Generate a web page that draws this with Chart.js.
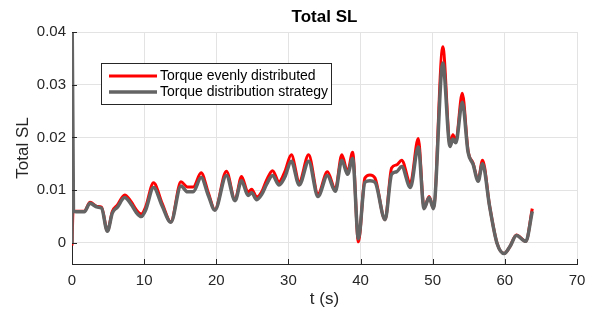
<!DOCTYPE html>
<html>
<head>
<meta charset="utf-8">
<script src="https://cdn.jsdelivr.net/npm/chart.js@4"></script>
<style>
  body { margin: 0; background: #fff; }
  #wrap { width: 594px; height: 311px; position: relative; }
</style>
</head>
<body>
<div id="wrap"><canvas id="place__graph1"></canvas></div>
<script>
// time (s)
const tRed = [0, 0.15, 0.6, 1.7, 2.5, 3.5, 4.1, 4.9, 5.6, 6.3, 7.3, 8.2, 8.9, 9.6, 10.2, 11.3, 12.5, 13.7, 15.1, 16.0, 16.8, 17.9, 18.9, 19.8, 21.4, 22.6, 23.5, 24.4, 24.9, 25.6, 26.3, 27.0, 27.8, 28.7, 29.5, 30.4, 31.5, 32.8, 34.1, 35.4, 36.5, 37.4, 38.2, 38.9, 39.7, 40.6, 41.3, 42.0, 43.4, 44.3, 45.0, 45.7, 46.9, 48.0, 48.8, 49.5, 50.1, 51.4, 52.4, 52.8, 53.2, 54.1, 54.9, 55.6, 56.3, 56.9, 57.9, 58.9, 59.9, 60.7, 61.6, 62.9, 63.8];
const evenly = [-0.0005, 0.006, 0.006, 0.006, 0.0077, 0.0069, 0.0068, 0.0023, 0.006, 0.0072, 0.0091, 0.0078, 0.0063, 0.0055, 0.0068, 0.0114, 0.0075, 0.004, 0.0116, 0.0106, 0.0106, 0.0133, 0.0095, 0.0063, 0.0136, 0.0082, 0.0126, 0.0096, 0.0102, 0.0087, 0.0097, 0.012, 0.0137, 0.0116, 0.0135, 0.0167, 0.0116, 0.0167, 0.0093, 0.0135, 0.0102, 0.0167, 0.0135, 0.0172, 0.0002, 0.0123, 0.0129, 0.0123, 0.0044, 0.0142, 0.0148, 0.0157, 0.0113, 0.0198, 0.0066, 0.0088, 0.0066, 0.0372, 0.0187, 0.0205, 0.0193, 0.0284, 0.0175, 0.0151, 0.0119, 0.0157, 0.0069, 0.0, -0.002, -0.0007, 0.0015, 0.0003, 0.0065];

const tGray = [0, 0.02, 0.2, 0.6, 1.7, 2.5, 3.5, 4.1, 4.9, 5.6, 6.3, 7.3, 8.2, 8.9, 9.6, 10.2, 11.3, 12.5, 13.7, 15.1, 16.0, 16.8, 17.9, 18.9, 19.8, 21.4, 22.6, 23.5, 24.4, 24.9, 25.6, 26.3, 27.0, 27.8, 28.7, 29.5, 30.4, 31.5, 32.8, 34.1, 35.4, 36.5, 37.4, 38.2, 38.9, 39.7, 40.6, 41.3, 42.0, 43.4, 44.3, 45.0, 45.7, 46.9, 48.0, 48.8, 49.5, 50.1, 51.4, 52.4, 52.8, 53.2, 54.1, 54.9, 55.6, 56.3, 56.9, 57.9, 58.9, 59.9, 60.7, 61.6, 62.9, 63.8];
const strategy = [0.0, 0.042, 0.006, 0.0059, 0.0059, 0.0075, 0.0068, 0.0066, 0.0022, 0.0057, 0.0068, 0.0086, 0.0073, 0.0058, 0.005, 0.0062, 0.0105, 0.007, 0.0039, 0.0108, 0.0097, 0.0097, 0.0124, 0.009, 0.0062, 0.0128, 0.008, 0.0118, 0.009, 0.0095, 0.0082, 0.0092, 0.0112, 0.0128, 0.011, 0.0125, 0.0155, 0.011, 0.0155, 0.0088, 0.0128, 0.0098, 0.0157, 0.013, 0.016, 0.0008, 0.0115, 0.0118, 0.0115, 0.0044, 0.013, 0.0135, 0.0145, 0.0105, 0.0182, 0.0065, 0.0086, 0.0065, 0.0341, 0.0183, 0.0197, 0.019, 0.0267, 0.0172, 0.0149, 0.0117, 0.015, 0.0068, 0.0, -0.002, -0.0007, 0.0014, 0.0003, 0.006];

const xTicks = [0, 10, 20, 30, 40, 50, 60, 70];
const yTicks = [0, 0.01, 0.02, 0.03, 0.04];
const titleText = 'Total SL';

const pts = (xs, ys) => xs.map((x, i) => ({ x: x, y: ys[i] }));

const fontFam = 'Liberation Sans, Arial, sans-serif';
Chart.defaults.font.family = fontFam;
const axisColor = '#262626';

// title centred over the axes, not the whole canvas
const axesTitle = {
  id: 'axesTitle',
  afterDraw(chart) {
    const ctx = chart.ctx;
    const a = chart.chartArea;
    ctx.save();
    ctx.font = 'bold 17px ' + fontFam;
    ctx.fillStyle = '#000';
    ctx.textAlign = 'center';
    ctx.textBaseline = 'middle';
    ctx.fillText(titleText, (a.left + a.right) / 2, 17);
    ctx.restore();
  }
};

// legend box drawn inside the plot, like the matlab one
const boxLegend = {
  id: 'boxLegend',
  afterDraw(chart) {
    const ctx = chart.ctx;
    const a = chart.chartArea;
    const x0 = a.left + 29, y0 = a.top + 31, w = 230, h = 41;
    ctx.save();
    ctx.fillStyle = '#fff';
    ctx.fillRect(x0, y0, w, h);
    ctx.strokeStyle = axisColor;
    ctx.lineWidth = 1;
    ctx.strokeRect(x0 + 0.5, y0 + 0.5, w, h);
    ctx.font = '14px ' + fontFam;
    ctx.textBaseline = 'middle';
    chart.data.datasets.forEach((ds, i) => {
      const yy = y0 + 13 + i * 16;
      ctx.strokeStyle = ds.borderColor;
      ctx.lineWidth = ds.borderWidth;
      ctx.beginPath();
      ctx.moveTo(x0 + 8, yy);
      ctx.lineTo(x0 + 56, yy);
      ctx.stroke();
      ctx.fillStyle = '#000';
      ctx.fillText(ds.label, x0 + 59, yy);
    });
    ctx.restore();
  }
};

// inward tick marks
const innerTicks = {
  id: 'innerTicks',
  afterDatasetsDraw(chart) {
    const ctx = chart.ctx;
    const a = chart.chartArea;
    const sx = chart.scales.x, sy = chart.scales.y;
    ctx.save();
    ctx.strokeStyle = axisColor;
    ctx.lineWidth = 1;
    ctx.beginPath();
    xTicks.forEach(v => {
      const px = Math.round(sx.getPixelForValue(v)) + 0.5;
      ctx.moveTo(px, a.bottom);
      ctx.lineTo(px, a.bottom - 5);
    });
    yTicks.forEach(v => {
      const py = Math.round(sy.getPixelForValue(v)) + 0.5;
      ctx.moveTo(a.left, py);
      ctx.lineTo(a.left + 5, py);
    });
    ctx.stroke();
    ctx.restore();
  }
};

const ctx = document.getElementById('place__graph1').getContext('2d');
const chart = new Chart(ctx, {
  type: 'line',
  data: {
    datasets: [{
      label: 'Torque evenly distributed',
      data: pts(tRed, evenly),
      borderColor: '#ff0000',
      borderWidth: 3,
      order: 2
    }, {
      label: 'Torque distribution strategy',
      data: pts(tGray, strategy),
      borderColor: '#646464',
      borderWidth: 3.5,
      order: 1
    }]
  },
  options: {
    responsive: true,
    maintainAspectRatio: false,
    animation: false,
    parsing: false,
    layout: { padding: { left: 0, right: 17, top: 32, bottom: 0 } },
    elements: {
      point: { radius: 0 },
      line: { cubicInterpolationMode: 'monotone', fill: false }
    },
    plugins: {
      legend: { display: false },
      tooltip: { enabled: false },
      title: { display: false }
    },
    scales: {
      x: {
        type: 'linear',
        min: 0,
        max: 70,
        afterBuildTicks: s => { s.ticks = xTicks.map(v => ({ value: v })); },
        afterFit: s => { s.height = 47; },
        grid: { color: '#e3e3e3', drawTicks: false },
        border: { color: axisColor },
        ticks: { padding: 8, color: axisColor, font: { size: 15 } },
        title: { display: true, text: 't (s)', color: axisColor, font: { size: 17 }, padding: { top: 0, bottom: 1 } }
      },
      y: {
        min: -0.004,
        max: 0.04,
        afterBuildTicks: s => { s.ticks = yTicks.map(v => ({ value: v })); },
        afterFit: s => { s.width = 72; },
        grid: { color: '#e3e3e3', drawTicks: false },
        border: { color: axisColor },
        ticks: {
          padding: 6,
          color: axisColor,
          font: { size: 15 },
          callback: v => v === 0 ? '0' : v.toFixed(2)
        },
        title: { display: true, text: 'Total SL', color: axisColor, font: { size: 17 }, padding: { top: 13, bottom: 0 } }
      }
    }
  },
  plugins: [innerTicks, boxLegend, axesTitle]
});
</script>
</body>
</html>
